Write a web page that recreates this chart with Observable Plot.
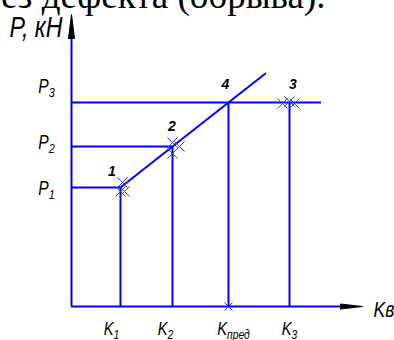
<!DOCTYPE html>
<html><head><meta charset="utf-8">
<script src="https://cdn.jsdelivr.net/npm/d3@7"></script>
<script src="https://cdn.jsdelivr.net/npm/@observablehq/plot@0.6"></script>
<style>html,body{margin:0;padding:0;background:#fff} svg{display:block}</style>
</head><body><div id="chart"></div>
<script>
// chart units: origin at the axes intersection
const kNames = ["K|1", "K|2", "K|пред", "K|3"];
const kValues = [49, 101, 157, 218];
const kTops = [119, 160, 204, 204];
const kLabelX = [40, 94, 162, 218];
const pNames = ["P|1", "P|2", "P|3"];
const pValues = [119, 160, 204];
const pEnds = [49, 101, 250];
const pLabelY = [118, 164, 220];
const lineX = [49, 101, 157, 194];
const lineY = [119, 160, 204, 233];
const pointLabels = ["1", "2", "4", "3"];
const pointLabelX = [40.5, 100.5, 154, 221.5];
const pointLabelY = [135, 179.5, 221.5, 221.5];
const crossX = [51, 49, 53, 101, 108, 101, 211, 218, 223];
const crossY = [124, 115, 115, 164, 160, 153, 203, 205, 203];
const predX = [157];
const predY = [0];
const yAxisTitle = "P, кН";
const xAxisTitle = "Kв";
const topText = "без дефекта (обрыва).";

const blue = "#0000ff";
const sans = "Liberation Sans, Arial, sans-serif";
const kRows = kValues.map((k, i) => ({name: kNames[i], k, top: kTops[i], lx: kLabelX[i]}));
const pRows = pValues.map((p, i) => ({name: pNames[i], p, end: pEnds[i], ly: pLabelY[i]}));
const lineRows = lineX.map((x, i) => ({x, y: lineY[i]}));
const ptRows = pointLabels.map((t, i) => ({t, x: pointLabelX[i], y: pointLabelY[i]}));
const crossRows = crossX.map((x, i) => ({x, y: crossY[i]}));
const predRows = predX.map((x, i) => ({x, y: predY[i]}));
const arrowUp = [{x: -3, y: 268}, {x: 0, y: 292}, {x: 3, y: 268}, {x: -3, y: 268}];
const arrowRight = [{x: 269, y: -2.5}, {x: 291, y: 0}, {x: 269, y: 2.5}, {x: 269, y: -2.5}];

const cond = {fontStyle: "italic", fontFamily: sans, fill: "black", ariaDescription: "cond"};

const chart = Plot.plot({
  width: 394, height: 340, margin: 0,
  x: {domain: [-71, 323], axis: null},
  y: {domain: [-34, 306], axis: null},
  marks: [
    Plot.text([topText], {x: 254, y: 310, text: d => d, textAnchor: "end", fontSize: 37, fontFamily: "Liberation Serif, Times New Roman, serif", fill: "black"}),
    Plot.ruleX([0], {y1: 0, y2: 280, stroke: blue, strokeWidth: 2}),
    Plot.ruleY([0], {x1: 0, x2: 274, stroke: blue, strokeWidth: 2}),
    Plot.ruleY(pRows, {y: "p", x1: 0, x2: "end", stroke: blue, strokeWidth: 2}),
    Plot.ruleX(kRows, {x: "k", y1: 0, y2: "top", stroke: blue, strokeWidth: 2}),
    Plot.line(lineRows, {x: "x", y: "y", stroke: blue, strokeWidth: 2}),
    Plot.line(arrowUp, {x: "x", y: "y", fill: "black", stroke: "black", strokeWidth: 1}),
    Plot.line(arrowRight, {x: "x", y: "y", fill: "black", stroke: "black", strokeWidth: 1}),
    Plot.dot(crossRows, {x: "x", y: "y", symbol: "times", r: 4.7, stroke: "#2f3fff", strokeWidth: 1}),
    Plot.dot(predRows, {x: "x", y: "y", symbol: "times", r: 3.8, stroke: "#2f3fff", strokeWidth: 1}),
    Plot.text(ptRows, {x: "x", y: "y", text: "t", fontSize: 14, fontWeight: "bold", fontStyle: "italic", fontFamily: sans, fill: "black"}),
    Plot.text(pRows, {x: -25, y: "ly", text: "name", fontSize: 19.5, ...cond}),
    Plot.text(kRows, {x: "lx", y: -23, text: "name", fontSize: 18.5, ...cond}),
    Plot.text([xAxisTitle], {x: 302, y: -3, text: d => d, textAnchor: "start", fontSize: 22, ...cond}),
    Plot.text([yAxisTitle], {x: -62, y: 279, text: d => d, textAnchor: "start", fontSize: 29, ...cond})
  ]
});
document.getElementById("chart").appendChild(chart);

// condensed italic look and subscripts
d3.select(chart).selectAll("text").each(function () {
  const g = this.closest("g");
  const isCond = g && (g.getAttribute("aria-description") === "cond" ||
    (g.getAttribute("font-style") === "italic" && g.getAttribute("font-weight") !== "bold"));
  if (!isCond) return;
  const el = d3.select(this);
  const s = el.text();
  if (s.includes("|")) {
    const [main, sub] = s.split("|");
    el.text(null);
    el.append("tspan").text(main);
    el.append("tspan").attr("font-size", "0.7em").attr("dy", "0.28em").text(sub);
  }
  const t = this.getAttribute("transform");
  if (t) {
    this.setAttribute("transform", t + " scale(0.8,1)");
  } else {
    const x = +(this.getAttribute("x") || 0), y = +(this.getAttribute("y") || 0);
    this.removeAttribute("x"); this.removeAttribute("y");
    this.setAttribute("transform", `translate(${x},${y}) scale(0.8,1)`);
  }
});
</script>
</body></html>
